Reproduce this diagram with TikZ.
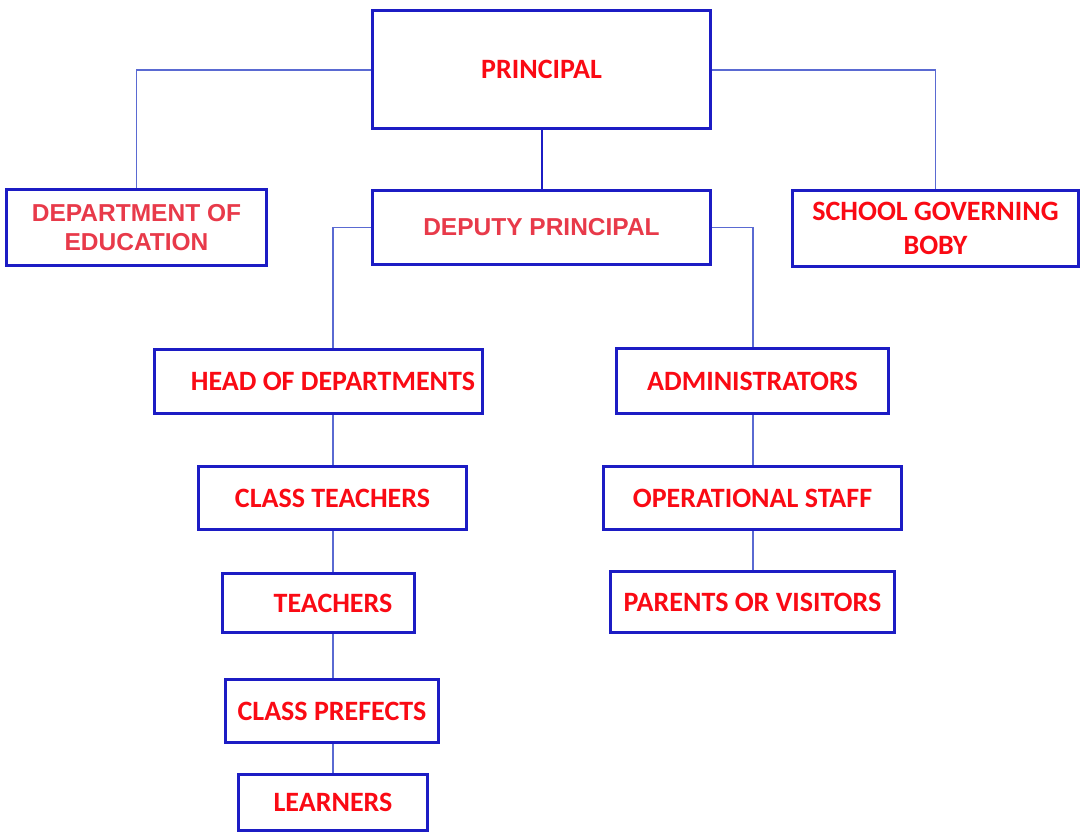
\documentclass[tikz,border=0pt]{standalone}
\usepackage{fontspec}
\setmainfont{Carlito}
\newfontfamily\arialfont{Liberation Sans}
\definecolor{boxblue}{RGB}{28,28,196}
\definecolor{linkblue}{RGB}{90,106,210}
\definecolor{titlered}{RGB}{250,10,20}
\definecolor{softred}{RGB}{232,58,74}
\begin{document}
\begin{tikzpicture}[x=1pt,y=-1pt,
  orgbox/.style={draw=boxblue, line width=3pt, fill=white, align=center,
    inner sep=0pt, text=titlered, font=\fontsize{28}{34}\selectfont\bfseries},
  softbox/.style={orgbox, text=softred, font=\arialfont\fontsize{24.5}{28.5}\selectfont\bfseries},
  conn/.style={draw=linkblue, line width=1.2pt},
  mainconn/.style={draw=boxblue, line width=2pt}]
\useasboundingbox (0,0) rectangle (1087,838);
\fill[white] (0,0) rectangle (1087,838);

% chain columns for the two lower branches
\coordinate (lc) at (333,0);
\coordinate (rc) at (753,0);

\node[orgbox, minimum width=338pt, minimum height=118pt] (principal) at (541.5,69.5) {PRINCIPAL};
\node[softbox, minimum width=260pt, minimum height=76pt] (doe) at (136.5,227.5) {DEPARTMENT OF\\EDUCATION};
\node[softbox, minimum width=338pt, minimum height=74pt] (deputy) at (541.5,227.5) {DEPUTY PRINCIPAL};
\node[orgbox, minimum width=286pt, minimum height=76pt] (sgb) at (935.5,228.5) {SCHOOL GOVERNING\\BOBY};

% left branch: the text sits on the chain column, not on the box centre
\node[orgbox, minimum width=328pt, minimum height=64pt] (hod) at (318.5,381.5) {\hspace*{29pt}HEAD OF DEPARTMENTS};
\node[orgbox, minimum width=268pt, minimum height=63pt] (ct) at (332.5,498) {CLASS TEACHERS};
\node[orgbox, minimum width=192pt, minimum height=59pt] (teach) at (318.5,603) {\hspace*{29pt}TEACHERS};
\node[orgbox, minimum width=213pt, minimum height=63pt] (pref) at (332,711) {CLASS PREFECTS};
\node[orgbox, minimum width=189pt, minimum height=56pt] (learn) at (333,802.5) {LEARNERS};

% right branch
\node[orgbox, minimum width=272pt, minimum height=65pt] (admin) at (752.5,381) {ADMINISTRATORS};
\node[orgbox, minimum width=298pt, minimum height=63pt] (ops) at (752.5,498) {OPERATIONAL STAFF};
\node[orgbox, minimum width=284pt, minimum height=61pt] (parents) at (752.5,602) {PARENTS OR VISITORS};

% connectors
\draw[conn] (principal.west |- 0,70) -| (doe.north);
\draw[conn] (principal.east |- 0,70) -| (sgb.north);
\draw[mainconn] (principal.south) -- (deputy.north);
\draw[conn] (deputy.west) -| (lc |- hod.north);
\draw[conn] (deputy.east) -| (rc |- admin.north);
\draw[conn] (lc |- hod.south) -- (lc |- ct.north);
\draw[conn] (lc |- ct.south) -- (lc |- teach.north);
\draw[conn] (lc |- teach.south) -- (lc |- pref.north);
\draw[conn] (lc |- pref.south) -- (lc |- learn.north);
\draw[conn] (rc |- admin.south) -- (rc |- ops.north);
\draw[conn] (rc |- ops.south) -- (rc |- parents.north);
\end{tikzpicture}
\end{document}
